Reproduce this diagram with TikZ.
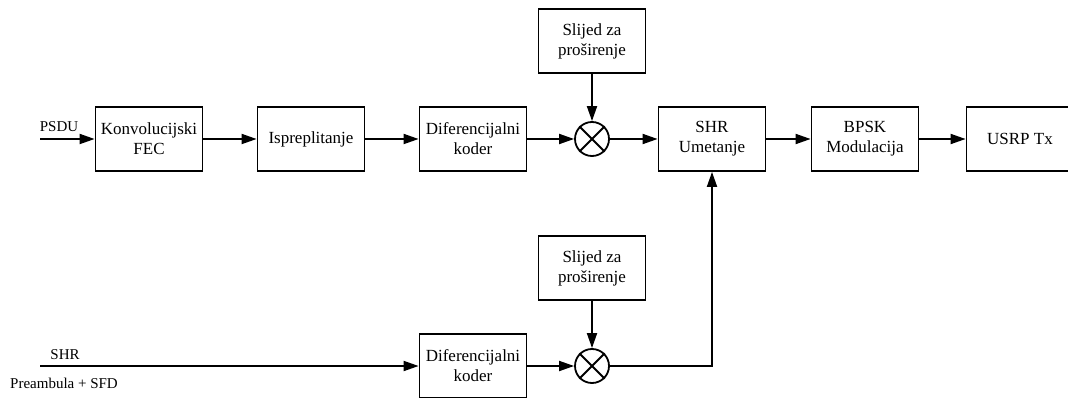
\documentclass[tikz,border=0pt]{standalone}
\usepackage{fontspec}
\setmainfont{Liberation Serif}
\usetikzlibrary{arrows.meta}

\begin{document}
\begin{tikzpicture}
  [x=1pt,y=-1pt,line width=1.8pt,
   blok/.style={draw,minimum width=107pt,minimum height=64pt,inner sep=2pt,align=center,font=\fontsize{17}{20}\selectfont},
   mnozi/.style={draw,circle,minimum size=34pt,inner sep=0pt},
   oznaka/.style={inner sep=0pt,font=\fontsize{15}{18}\selectfont},
   strel/.style={-{Triangle[length=15pt,width=10pt]}}]
  \useasboundingbox (0,0) rectangle (1068,398);

  % gornja grana
  \node[blok] (fec) at (149,139) {Konvolucijski\\FEC};
  \node[blok] (isp) at (311,139) {Ispreplitanje};
  \node[blok] (dif1) at (473,139) {Diferencijalni\\koder};
  \node[mnozi] (m1) at (592,139) {};
  \node[blok] (sl1) at (592,41) {Slijed za\\proširenje};
  \node[blok] (shr) at (712,139) {SHR\\Umetanje};
  \node[blok] (bpsk) at (865,139) {BPSK\\Modulacija};
  \node[blok] (usrp) at (1020,139) {USRP Tx};

  % donja grana
  \node[blok] (sl2) at (592,268) {Slijed za\\proširenje};
  \node[blok] (dif2) at (473,366) {Diferencijalni\\koder};
  \node[mnozi] (m2) at (592,366) {};

  % ulazi
  \coordinate (psdu) at (40,139);
  \coordinate (shrul) at (40,366);
  \node[oznaka] (psdulab) at (59,127) {PSDU};
  \node[oznaka] (shrlab) at (65,355) {SHR};
  \node[oznaka] (prelab) at (64,383) {Preambula + SFD};

  \foreach \m in {m1,m2}
    \draw (\m.north west) -- (\m.south east) (\m.north east) -- (\m.south west);

  \foreach \from/\to in {psdu/fec,fec/isp,isp/dif1,dif1/m1,sl1/m1,m1/shr,shr/bpsk,bpsk/usrp,shrul/dif2,dif2/m2,sl2/m2}
    \draw[strel] (\from) -- (\to);
  \draw[strel] (m2) -| (shr);
\end{tikzpicture}
\end{document}
